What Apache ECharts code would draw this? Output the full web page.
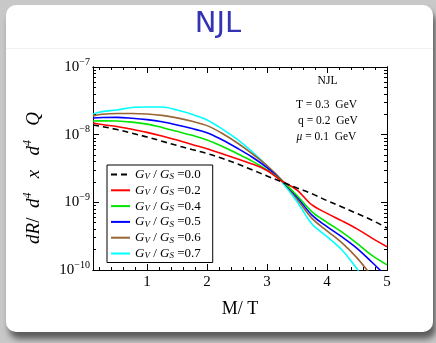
<!DOCTYPE html>
<html><head><meta charset="utf-8">
<script src="https://cdn.jsdelivr.net/npm/echarts@6/dist/echarts.min.js"></script>
<style>html,body{margin:0;padding:0;background:#c8c8c8;overflow:hidden}#c{width:436px;height:343px}</style>
</head><body><div id="c"></div>
<script>
// M/T values
const mT = [0.1,0.25,0.5,0.75,1,1.25,1.5,1.75,2,2.25,2.5,2.75,3,3.25,3.5,3.75,4,4.25,4.5,4.75,5];
// G_V/G_S ratios
const ratios = ['0.0','0.2','0.4','0.5','0.6','0.7'];
// dR/d^4x d^4Q for each ratio
const rate00 = [1.39e-8,1.32e-8,1.19e-8,1.05e-8,9.25e-9,8.0e-9,6.92e-9,6.04e-9,5.27e-9,4.47e-9,3.72e-9,3.03e-9,2.45e-9,2.0e-9,1.63e-9,1.34e-9,1.06e-9,8.53e-10,6.84e-10,5.45e-10,4.18e-10];
const rate02 = [1.49e-8,1.41e-8,1.32e-8,1.20e-8,1.08e-8,9.55e-9,8.32e-9,7.16e-9,6.17e-9,5.22e-9,4.39e-9,3.69e-9,2.95e-9,2.05e-9,1.52e-9,9.14e-10,6.87e-10,5.32e-10,4.05e-10,2.96e-10,2.21e-10];
const rate04 = [1.59e-8,1.60e-8,1.59e-8,1.53e-8,1.43e-8,1.28e-8,1.12e-8,9.77e-9,8.37e-9,6.76e-9,5.28e-9,4.07e-9,3.02e-9,2.07e-9,1.26e-9,7.24e-10,5.07e-10,3.62e-10,2.48e-10,1.64e-10,1.19e-10];
const rate05 = [1.76e-8,1.79e-8,1.80e-8,1.75e-8,1.67e-8,1.55e-8,1.39e-8,1.23e-8,1.07e-8,8.41e-9,6.35e-9,4.68e-9,3.25e-9,2.07e-9,1.20e-9,6.47e-10,4.37e-10,3.08e-10,2.09e-10,1.30e-10,7.9e-11];
const rate06 = [1.89e-8,2.0e-8,2.06e-8,2.06e-8,2.02e-8,1.93e-8,1.77e-8,1.58e-8,1.36e-8,1.05e-8,7.59e-9,5.25e-9,3.48e-9,2.11e-9,1.12e-9,5.79e-10,3.79e-10,2.52e-10,1.51e-10,8.1e-11,4.5e-11];
const rate07 = [2.02e-8,2.19e-8,2.32e-8,2.52e-8,2.56e-8,2.56e-8,2.31e-8,2.0e-8,1.65e-8,1.22e-8,8.57e-9,5.62e-9,3.47e-9,2.0e-9,1.03e-9,4.79e-10,3.12e-10,1.98e-10,1.04e-10,5.0e-11,2.5e-11];
// tick values
const xMajorTicks = [1,2,3,4,5];
const xMinorTicks = [0.2,0.4,0.6,0.8,1.2,1.4,1.6,1.8,2.2,2.4,2.6,2.8,3.2,3.4,3.6,3.8,4.2,4.4,4.6,4.8];
const yMajorTicks = [1e-10,1e-9,1e-8,1e-7];
const yMinorMantissas = [2,3,4,5,6,7,8,9];

const allRates = [rate00,rate02,rate04,rate05,rate06,rate07];
const colors = ['#000000','#ff0000','#00e600','#0000ff','#996633','#00ffff'];
const yMinorTicks = [];
yMajorTicks.slice(0,3).forEach(d => yMinorMantissas.forEach(m => yMinorTicks.push(m*d)));

const serif = 'Liberation Serif';
const chart = echarts.init(document.getElementById('c'));

const series = allRates.map((arr, i) => ({
  type: 'line',
  name: 'GV/GS=' + ratios[i],
  data: mT.map((x, j) => [x, arr[j]]),
  showSymbol: false, symbol: 'none',
  smooth: 0.35,
  clip: true,
  color: colors[i],
  lineStyle: {width: 1.6, color: colors[i], type: i === 0 ? [6, 4] : 'solid'},
  emphasis: {disabled: true},
  z: 10 - i
}));

function xAx(pos, ticks, len, labels) {
  return {
    type: 'value', min: 0.1, max: 5, position: pos,
    axisLine: {show: true, lineStyle: {color: '#000', width: 1}},
    axisTick: {show: true, inside: true, length: len, customValues: ticks, lineStyle: {color: '#000', width: 1}},
    axisLabel: labels ? {show: true, customValues: xMajorTicks, margin: 5, fontFamily: serif, fontSize: 15, color: '#000'} : {show: false},
    splitLine: {show: false}
  };
}
function yAx(pos, ticks, len, labels) {
  return {
    type: 'log', logBase: 10, min: 1e-10, max: 1e-7, position: pos,
    axisLine: {show: true, lineStyle: {color: '#000', width: 1}},
    axisTick: {show: true, inside: true, length: len, customValues: ticks, lineStyle: {color: '#000', width: 1}},
    axisLabel: labels ? {
      show: true, customValues: yMajorTicks, margin: 3,
      formatter: v => '{b|10}{s|\u2212' + Math.abs(Math.round(Math.log10(v))) + '}',
      rich: {
        b: {fontFamily: serif, fontSize: 15, lineHeight: 20, color: '#000'},
        s: {fontFamily: serif, fontSize: 10, lineHeight: 10, verticalAlign: 'top', color: '#000'}
      }
    } : {show: false},
    splitLine: {show: false}
  };
}

const xAxes = [xAx('bottom', xMajorTicks, 6, true), xAx('bottom', xMinorTicks, 3, false), xAx('top', xMajorTicks, 6, false), xAx('top', xMinorTicks, 3, false)];
xAxes[0].name = 'M/ T';
xAxes[0].nameLocation = 'middle';
xAxes[0].nameGap = 30;
xAxes[0].nameTextStyle = {fontFamily: serif, fontSize: 18, color: '#000'};

const yAxes = [yAx('left', yMajorTicks, 6, true), yAx('left', yMinorTicks, 3, false), yAx('right', yMajorTicks, 6, false), yAx('right', yMinorTicks, 3, false)];
yAxes[0].name = '{i|dR}{n|/  }{i|d}{p|4}{i|   x   d}{p|4}{i|   Q}{n|    }';
yAxes[0].nameLocation = 'middle';
yAxes[0].nameGap = 47;
yAxes[0].nameRotate = 90;
yAxes[0].nameTextStyle = {
  rich: {
    i: {fontFamily: serif, fontStyle: 'italic', fontSize: 19, lineHeight: 24, color: '#000'},
    n: {fontFamily: serif, fontSize: 19, lineHeight: 24, color: '#000'},
    p: {fontFamily: serif, fontStyle: 'italic', fontSize: 12, lineHeight: 12, verticalAlign: 'top', color: '#000'}
  }
};

const noteStyle = {fontFamily: serif, fontSize: 11.5, fill: '#000', textAlign: 'center', textVerticalAlign: 'middle'};

chart.setOption({
  animation: false,
  backgroundColor: '#c8c8c8',
  title: {
    text: 'NJL', left: 'center', top: 10, padding: 0,
    textStyle: {color: '#3333b3', fontFamily: 'DejaVu Sans', fontSize: 29, fontWeight: 'normal'}
  },
  graphic: [
    {type: 'rect', z: -10, shape: {x: 6, y: 5, width: 427, height: 327, r: 10},
     style: {fill: '#ffffff', shadowBlur: 6, shadowOffsetX: 3, shadowOffsetY: 7, shadowColor: 'rgba(0,0,0,0.55)'}},
    {type: 'line', z: -9, shape: {x1: 6, y1: 48.5, x2: 433, y2: 48.5}, style: {stroke: '#f0f0f0', lineWidth: 1}},
    {type: 'text', x: 327.5, y: 81, style: Object.assign({text: 'NJL'}, noteStyle)},
    {type: 'text', x: 326.5, y: 105, style: Object.assign({text: 'T = 0.3  GeV'}, noteStyle)},
    {type: 'text', x: 328, y: 121, style: Object.assign({text: 'q = 0.2  GeV'}, noteStyle)},
    {type: 'text', x: 326.5, y: 137, style: Object.assign({}, noteStyle, {text: '{i|\u03bc} = 0.1  GeV', rich: {i: {fontStyle: 'italic', fontFamily: serif, fontSize: 11.5}}})}
  ],
  grid: {left: 93, right: 49, top: 67, bottom: 73, containLabel: false},
  xAxis: xAxes,
  yAxis: yAxes,
  legend: {
    orient: 'vertical', left: 107, top: 165,
    itemWidth: 19, itemHeight: 12, itemGap: 2.3,
    padding: [3, 12, 2, 3],
    borderColor: '#000', borderWidth: 1, backgroundColor: '#fff',
    selectedMode: false,
    itemStyle: {opacity: 0},
    data: series.map(s => s.name),
    formatter: name => '{g|G}{s|V}{t| / }{g|G}{s|S}{t| =' + name.split('=')[1] + '}',
    textStyle: {
      color: '#000',
      rich: {
        g: {fontFamily: serif, fontStyle: 'italic', fontSize: 13, lineHeight: 14, color: '#000'},
        s: {fontFamily: serif, fontStyle: 'italic', fontSize: 9, lineHeight: 7, verticalAlign: 'bottom', color: '#000'},
        t: {fontFamily: serif, fontSize: 13, lineHeight: 14, color: '#000'}
      }
    }
  },
  series: series
});
</script></body></html>
